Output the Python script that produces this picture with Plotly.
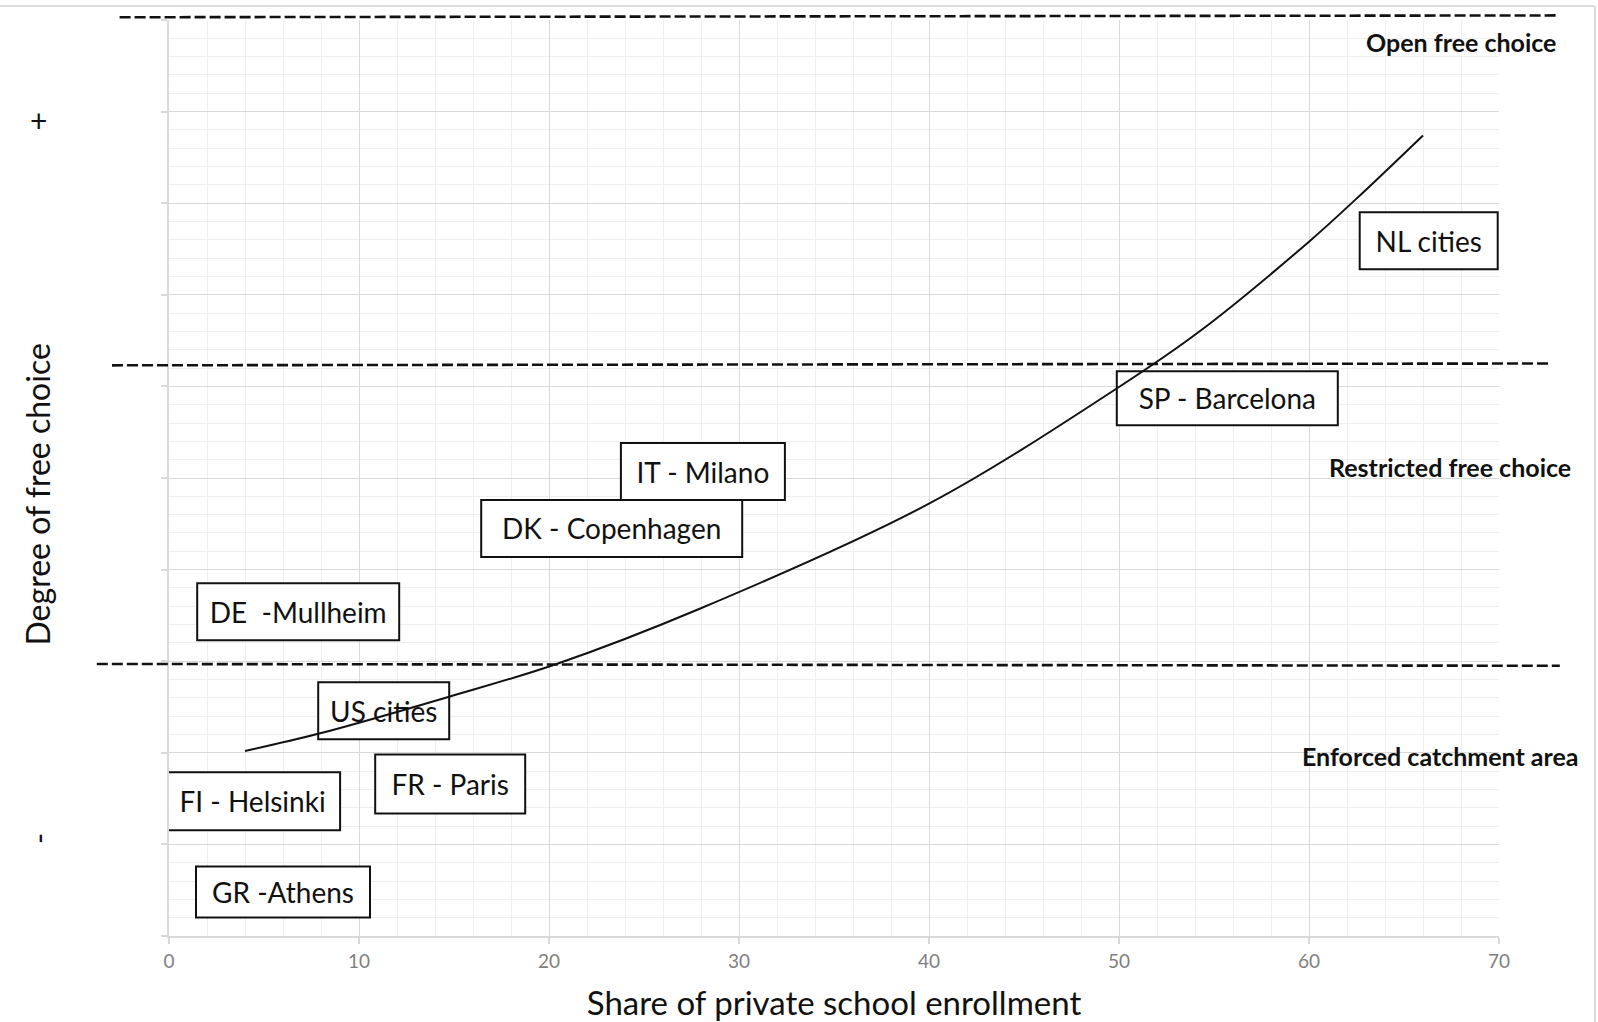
import plotly.graph_objects as go

# ---------------- data ----------------
# Fitted relation: share of private school enrollment vs degree of free choice
share_private = [4.0, 7.9, 14.7, 20.4, 27.9, 40.0, 49.9, 54.3, 60.0, 62.5, 66.0]
free_choice = [2.02, 2.21, 2.61, 2.97, 3.57, 4.72, 5.98, 6.61, 7.58, 8.05, 8.74]

# City labels (position = share of private enrollment, degree of free choice)
cities = ["NL cities", "SP - Barcelona", "IT - Milano", "DK - Copenhagen",
          "DE  -Mullheim", "US cities", "FR - Paris", "FI - Helsinki", "GR -Athens"]
city_x = [66.3, 55.7, 28.1, 23.3, 6.8, 11.3, 14.8, 4.4, 6.0]
city_y = [7.59, 5.87, 5.07, 4.45, 3.54, 2.46, 1.66, 1.47, 0.48]

# Regime labels
regimes = ["Open free choice", "Restricted free choice", "Enforced catchment area"]
regime_x = [68.0, 67.4, 66.9]
regime_y = [9.76, 5.12, 1.96]

# Regime boundaries (dashed lines)
boundary_x0 = [-2.6, -3.0, -3.8]
boundary_x1 = [73.0, 72.6, 73.2]
boundary_y0 = [10.03, 6.23, 2.97]
boundary_y1 = [10.05, 6.25, 2.95]

# Axis
x_tickvals = [0, 10, 20, 30, 40, 50, 60, 70]
x_ticktext = ["0", "10", "20", "30", "40", "50", "60", "70"]
y_signs = ["+", "-"]
y_sign_pos = [8.91, 1.06]
y_title_pos = 4.82

X_RANGE = [0, 70]
Y_RANGE = [0, 10]

# ---------------- styles ----------------
W, H = 1598, 1022
FONT = "Lato, 'Open Sans', sans-serif"
INK = "#111111"
GRID = "#d9d9d9"
MINOR = "#efefef"
box_w = [138, 221, 164, 261, 202, 131, 150, 175, 174]
box_h = [57, 54, 57, 57, 57, 57, 59, 58, 51]
PX_PER_Y = 916 / (Y_RANGE[1] - Y_RANGE[0])
TEXT_DROP_PX = 4

fig = go.Figure()

# White framed boxes behind the curve
shapes = []
for cx, cy, bw, bh in zip(city_x, city_y, box_w, box_h):
    shapes.append(dict(
        type="rect", xref="x", yref="y", layer="between",
        xsizemode="pixel", ysizemode="pixel", xanchor=cx, yanchor=cy,
        x0=-bw / 2, x1=bw / 2, y0=-bh / 2, y1=bh / 2,
        line=dict(color=INK, width=2), fillcolor="white"))

# Dashed boundaries (allowed to run past the plotting area)
def xd(v):
    return (v - X_RANGE[0]) / (X_RANGE[1] - X_RANGE[0])

def yd(v):
    return (v - Y_RANGE[0]) / (Y_RANGE[1] - Y_RANGE[0])

for x0, x1, y0, y1 in zip(boundary_x0, boundary_x1, boundary_y0, boundary_y1):
    shapes.append(dict(
        type="line", xref="x domain", yref="y domain", layer="above",
        x0=xd(x0), x1=xd(x1), y0=yd(y0), y1=yd(y1),
        line=dict(color=INK, width=2.6, dash="11px,4px")))

# faint outer frame (top and right)
shapes.append(dict(type="line", xref="paper", yref="paper",
                   x0=-0.2, x1=(1595 - 169) / 1330, y0=1 + 14 / 916, y1=1 + 14 / 916,
                   line=dict(color="#dcdcdc", width=2)))
shapes.append(dict(type="line", xref="paper", yref="paper",
                   x0=(1595 - 169) / 1330, x1=(1595 - 169) / 1330, y0=1 + 14 / 916, y1=-0.2,
                   line=dict(color="#dcdcdc", width=2)))

# City texts
fig.add_trace(go.Scatter(
    x=city_x, y=[v - TEXT_DROP_PX / PX_PER_Y for v in city_y],
    mode="text", text=cities, textposition="middle center",
    textfont=dict(family=FONT, size=28, color=INK), hoverinfo="skip", showlegend=False))

# Curve
fig.add_trace(go.Scatter(
    x=share_private, y=free_choice, mode="lines",
    line=dict(color=INK, width=2, shape="spline", smoothing=1.0),
    hoverinfo="skip", showlegend=False))

annotations = []
for t, x, y in zip(regimes, regime_x, regime_y):
    annotations.append(dict(
        text="<b>%s</b>" % t, x=x, y=y, xref="x", yref="y", showarrow=False,
        xanchor="center", yanchor="middle",
        font=dict(family=FONT, size=25, color=INK)))

for s, y in zip(y_signs, y_sign_pos):
    annotations.append(dict(
        text=s, x=0, y=y, xref="paper", yref="y", xshift=-131, showarrow=False,
        xanchor="center", yanchor="middle", textangle=-90 if s == "-" else 0,
        font=dict(family=FONT, size=30, color=INK)))

# y-axis title placed as a rotated label
annotations.append(dict(
    text="Degree of free choice", x=0, y=y_title_pos, xref="paper", yref="y",
    xshift=-132, showarrow=False, xanchor="center", yanchor="middle", textangle=-90,
    font=dict(family=FONT, size=32, color=INK)))

fig.update_layout(
    width=W, height=H,
    margin=dict(l=169, r=99, t=20, b=86, autoexpand=False),
    paper_bgcolor="white", plot_bgcolor="white",
    shapes=shapes, annotations=annotations,
    showlegend=False,
    xaxis=dict(
        range=X_RANGE, tickvals=x_tickvals, ticktext=x_ticktext,
        showgrid=True, gridcolor=GRID, gridwidth=1,
        minor=dict(dtick=2, showgrid=True, gridcolor=MINOR, gridwidth=1),
        zeroline=False, showline=True, linecolor=GRID, linewidth=2,
        ticks="outside", ticklen=6, tickcolor=GRID, tickwidth=1.5,
        tickfont=dict(family=FONT, size=19, color="#808080"),
        ticklabelstandoff=1, automargin=False,
        title=dict(text="Share of private school enrollment",
                   font=dict(family=FONT, size=33, color=INK), standoff=24),
    ),
    yaxis=dict(
        range=Y_RANGE, dtick=1,
        showgrid=True, gridcolor=GRID, gridwidth=1,
        minor=dict(dtick=0.2, showgrid=True, gridcolor=MINOR, gridwidth=1),
        zeroline=False, showline=True, linecolor=GRID, linewidth=2,
        ticks="outside", ticklen=6, tickcolor=GRID, tickwidth=1.5,
        showticklabels=False, automargin=False,
    ),
)

fig.write_html("out.html", config={"displayModeBar": False},
               post_script="document.body.style.margin='0';")
